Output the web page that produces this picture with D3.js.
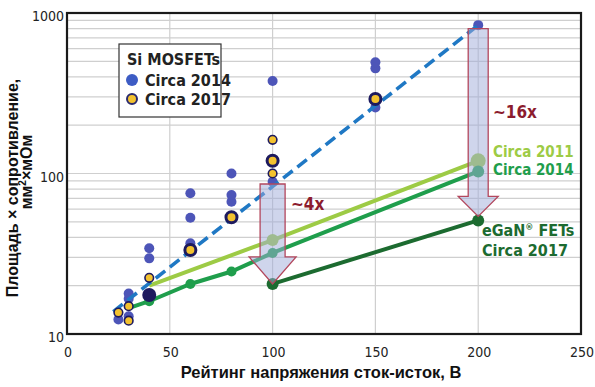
<!DOCTYPE html>
<html>
<head>
<meta charset="utf-8">
<script src="https://cdn.jsdelivr.net/npm/d3@7"></script>
<style>
  body { margin: 0; background: #fff; }
  svg { display: block; }
  .narrow { font-family: "Liberation Sans Narrow", "DejaVu Sans Condensed", "Arial Narrow", sans-serif; }
  .title { font-family: "Liberation Sans", Arial, sans-serif; font-weight: bold; fill: #111; }
</style>
</head>
<body>
<div id="chart"></div>
<script>
// --- data ---
const xTicks = [0, 50, 100, 150, 200, 250];
const yTicks = [10, 100, 1000];

// Si MOSFETs, circa 2014 [voltage, area*Rds]
const si2014 = [[25, 12.3], [30, 12.9], [30, 16.6], [30, 17.9], [40, 29.6], [40, 34.2],
  [60, 36.7], [60, 53], [60, 75.3], [80, 66.7], [80, 73.5], [80, 100],
  [100, 88.9], [100, 377], [150, 258], [150, 452], [150, 493], [200, 840]];
// Si MOSFETs, circa 2017 [voltage, area*Rds, big ring]
const si2017 = [[25, 13.6, 0], [30, 12.1, 0], [30, 14.9, 0], [40, 22.4, 0],
  [60, 33.4, 1], [80, 53.4, 1], [100, 100, 0], [100, 120, 1], [100, 162, 0], [150, 291, 1]];
const siDark = [[40, 17.5]];

// Si trend (dashed)
const trendV = [22.5, 200];
const trendR = [13.8, 840];

// eGaN FET generations
const gan2011V = [40, 100, 200];
const gan2011R = [20, 38.5, 120];
const gan2014V = [30, 40, 60, 80, 100, 200];
const gan2014R = [14.5, 16, 20.5, 24.5, 32, 103];
const gan2017V = [100, 200];
const gan2017R = [20.5, 51];

// improvement arrows
const arrowV = [100, 200];
const arrowTop = [86, 800];
const arrowTip = [20.5, 54];
const arrowText = ["~4x", "~16x"];

// --- layout ---
const width = 595, height = 387;
const mLeft = 67, mRight = 581, mTop = 13, mBottom = 334;

const svg = d3.select('#chart').append('svg')
  .attr('width', width)
  .attr('height', height);

const x = d3.scaleLinear().domain([0, 250]).range([mLeft, mRight]);
const y = d3.scaleLog().domain([10, 1000]).range([mBottom, mTop]);

// gridlines
const minor = [];
[10, 100].forEach(d => { for (let k = 2; k <= 9; k++) minor.push(d * k); });
minor.push(100);
svg.append('g').selectAll('line.h')
  .data(minor)
  .join('line')
  .attr('x1', mLeft).attr('x2', mRight)
  .attr('y1', d => y(d)).attr('y2', d => y(d))
  .attr('stroke', '#cfcfcf').attr('stroke-width', 1.2);
svg.append('g').selectAll('line.v')
  .data(xTicks.slice(1, -1))
  .join('line')
  .attr('x1', d => x(d)).attr('x2', d => x(d))
  .attr('y1', mTop).attr('y2', mBottom)
  .attr('stroke', '#cfcfcf').attr('stroke-width', 1.2);

// tick labels
svg.append('g').selectAll('text')
  .data(xTicks)
  .join('text')
  .attr('class', 'narrow')
  .attr('x', d => x(d) + 1).attr('y', 357)
  .attr('text-anchor', 'middle')
  .attr('font-size', 14).attr('fill', '#222')
  .text(d => d);
svg.append('g').selectAll('text')
  .data(yTicks)
  .join('text')
  .attr('class', 'narrow')
  .attr('x', 64).attr('y', d => y(d) + 8)
  .attr('text-anchor', 'end')
  .attr('font-size', 14).attr('fill', '#222')
  .text(d => d);

// axis titles
svg.append('text')
  .attr('class', 'title')
  .attr('x', 321).attr('y', 378)
  .attr('text-anchor', 'middle')
  .attr('font-size', 16.5)
  .text('Рейтинг напряжения сток-исток, В');

const yt = svg.append('g').attr('class', 'title').attr('font-size', 16);
yt.append('text')
  .attr('transform', 'translate(18,188) rotate(-90)')
  .attr('text-anchor', 'middle')
  .text('Площадь × сопротивление,');
const yt2 = yt.append('text')
  .attr('transform', 'translate(32,172) rotate(-90)')
  .attr('text-anchor', 'middle');
yt2.append('tspan').text('мм');
yt2.append('tspan').attr('font-size', 10).attr('dy', -6).text('2');
yt2.append('tspan').attr('dy', 6).text('×мОм');

// lines
const line = d3.line().x(d => x(d[0])).y(d => y(d[1]));
const series = [
  { v: gan2011V, r: gan2011R, color: '#9dcb45', marks: [1, 2], mr: [6, 7.5] },
  { v: gan2014V, r: gan2014R, color: '#1f9e4c', marks: [1, 2, 3, 4, 5], mr: [5, 5, 5, 5, 6] },
  { v: gan2017V, r: gan2017R, color: '#1c6b30', marks: [0, 1], mr: [6, 6] }
];
series.forEach(s => {
  const pts = s.v.map((v, i) => [v, s.r[i]]);
  svg.append('path')
    .datum(pts)
    .attr('d', line)
    .attr('fill', 'none')
    .attr('stroke', s.color)
    .attr('stroke-width', 4);
  svg.append('g').selectAll('circle')
    .data(s.marks)
    .join('circle')
    .attr('cx', i => x(pts[i][0]))
    .attr('cy', i => y(pts[i][1]))
    .attr('r', (i, k) => s.mr[k])
    .attr('fill', s.color);
});

// Si scatter
svg.append('g').selectAll('circle')
  .data(si2014)
  .join('circle')
  .attr('cx', d => x(d[0])).attr('cy', d => y(d[1]))
  .attr('r', 5)
  .attr('fill', '#4d55b8');

svg.append('path')
  .datum(trendV.map((v, i) => [v, trendR[i]]))
  .attr('d', line)
  .attr('fill', 'none')
  .attr('stroke', '#1f78c4')
  .attr('stroke-width', 3.6)
  .attr('stroke-dasharray', '12,6');

svg.append('g').selectAll('circle')
  .data(siDark)
  .join('circle')
  .attr('cx', d => x(d[0])).attr('cy', d => y(d[1]))
  .attr('r', 7)
  .attr('fill', '#1d1a5e');

svg.append('g').selectAll('circle')
  .data(si2017)
  .join('circle')
  .attr('cx', d => x(d[0])).attr('cy', d => y(d[1]))
  .attr('r', d => d[2] ? 5.5 : 4.3)
  .attr('fill', '#f3c22f')
  .attr('stroke', '#1d1a5e')
  .attr('stroke-width', d => d[2] ? 3 : 1.6);

// arrows
arrowV.forEach((v, i) => {
  const cx = x(v), y0 = y(arrowTop[i]), y1 = y(arrowTip[i]);
  const hw = i ? 10 : 12.5, hh = i ? 20 : 27, ww = i ? 20 : 23.5;
  const p = d3.path();
  p.moveTo(cx - hw, y0);
  p.lineTo(cx + hw, y0);
  p.lineTo(cx + hw, y1 - hh);
  p.lineTo(cx + ww, y1 - hh);
  p.lineTo(cx, y1);
  p.lineTo(cx - ww, y1 - hh);
  p.lineTo(cx - hw, y1 - hh);
  p.closePath();
  svg.append('path')
    .attr('d', p.toString())
    .attr('fill', 'rgba(160,172,218,0.5)')
    .attr('stroke', '#b3475d')
    .attr('stroke-width', 1.3);
});

// annotations
const ann = svg.append('g').attr('class', 'narrow').attr('font-weight', 'bold');
ann.append('text').attr('x', 291).attr('y', 210).attr('font-size', 17)
  .attr('fill', '#8c1c2e').text(arrowText[0]);
ann.append('text').attr('x', 493).attr('y', 118).attr('font-size', 17)
  .attr('fill', '#8c1c2e').text(arrowText[1]);
ann.append('text').attr('x', 493).attr('y', 157).attr('font-size', 15)
  .attr('fill', '#9dcb45').text('Circa 2011');
ann.append('text').attr('x', 493).attr('y', 175).attr('font-size', 15)
  .attr('fill', '#1f9e4c').text('Circa 2014');
const egan = ann.append('text').attr('x', 482).attr('y', 236).attr('font-size', 16)
  .attr('fill', '#1c6b30');
egan.append('tspan').text('eGaN');
egan.append('tspan').attr('font-size', 9).attr('dy', -6).text('®');
egan.append('tspan').attr('dy', 6).text(' FETs');
ann.append('text').attr('x', 482).attr('y', 256).attr('font-size', 16)
  .attr('fill', '#1c6b30').text('Circa 2017');

// legend
const lg = svg.append('g').attr('transform', 'translate(119,44)');
lg.append('rect').attr('width', 102).attr('height', 73)
  .attr('fill', '#fff').attr('stroke', '#333').attr('stroke-width', 1.2);
lg.append('text').attr('class', 'narrow').attr('x', 8).attr('y', 21)
  .attr('font-size', 16).attr('font-weight', 'bold').attr('fill', '#222')
  .text('Si MOSFETs');
lg.append('circle').attr('cx', 13).attr('cy', 36).attr('r', 6).attr('fill', '#3d5cc4');
lg.append('circle').attr('cx', 13).attr('cy', 55).attr('r', 5).attr('fill', '#f3c22f')
  .attr('stroke', '#2a2a6e').attr('stroke-width', 2);
lg.append('text').attr('class', 'narrow').attr('x', 26).attr('y', 42)
  .attr('font-size', 16).attr('font-weight', 'bold').attr('fill', '#222').text('Circa 2014');
lg.append('text').attr('class', 'narrow').attr('x', 26).attr('y', 61)
  .attr('font-size', 16).attr('font-weight', 'bold').attr('fill', '#222').text('Circa 2017');

// plot frame
svg.append('rect')
  .attr('x', mLeft).attr('y', mTop)
  .attr('width', mRight - mLeft).attr('height', mBottom - mTop)
  .attr('fill', 'none').attr('stroke', '#1a1a1a').attr('stroke-width', 2.2);
</script>
</body>
</html>
